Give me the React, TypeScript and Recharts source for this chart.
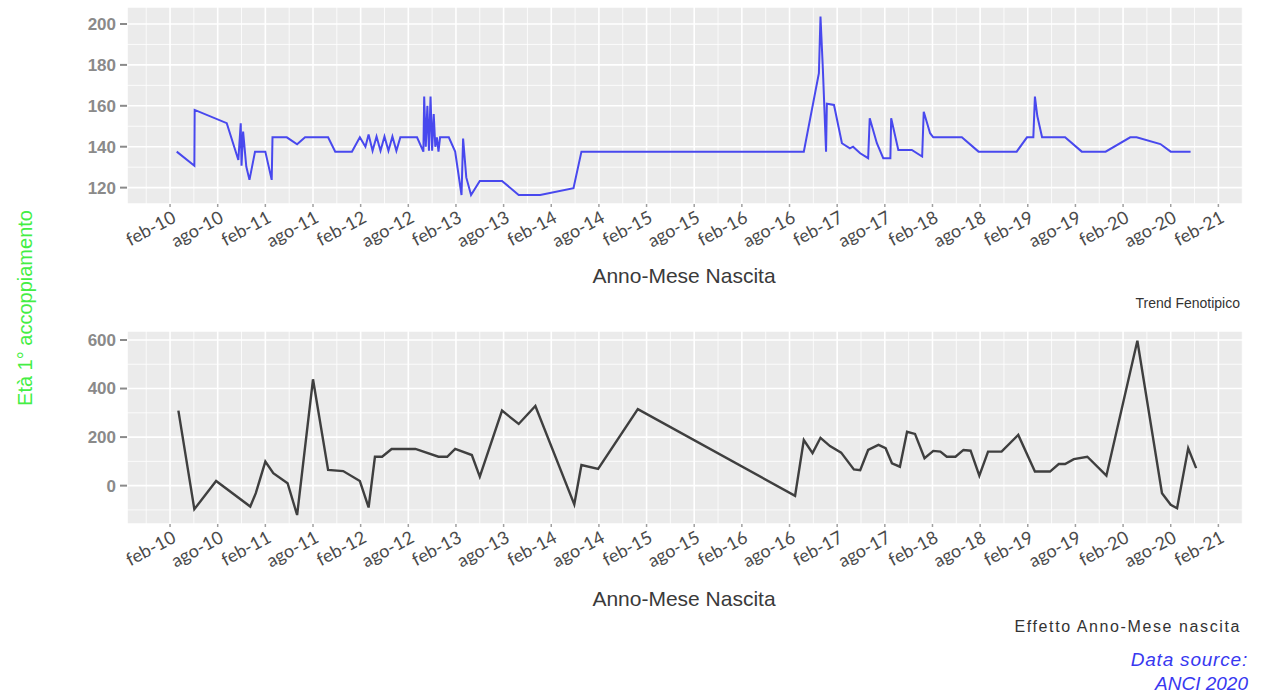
import React from "react";
import { LineChart, Line, XAxis, YAxis, CartesianGrid, ReferenceLine } from "recharts";

// x = months since feb-2010
const tickValues = [0, 6, 12, 18, 24, 30, 36, 42, 48, 54, 60, 66, 72, 78, 84, 90, 96, 102, 108, 114, 120, 126, 132];
const tickLabels = [
  "feb-10", "ago-10", "feb-11", "ago-11", "feb-12", "ago-12", "feb-13", "ago-13", "feb-14", "ago-14",
  "feb-15", "ago-15", "feb-16", "ago-16", "feb-17", "ago-17", "feb-18", "ago-18", "feb-19", "ago-19",
  "feb-20", "ago-20", "feb-21",
];
const xMinor = [-3, 3, 9, 15, 21, 27, 33, 39, 45, 51, 57, 63, 69, 75, 81, 87, 93, 99, 105, 111, 117, 123, 129, 135];

const topMonths = [
  0.84, 3.06, 3.1, 7.14, 8.6, 8.9, 9.0, 9.2, 9.6, 10.0, 10.7, 12.0, 12.8, 12.9, 14.7, 16.0, 17.0, 19.9, 20.8, 22.9,
  23.9, 24.6, 25.0, 25.5, 26.0, 26.5, 27.0, 27.5, 28.0, 28.5, 29.0, 31.1, 31.9, 32.0, 32.2, 32.4, 32.6, 32.8, 33.0, 33.2,
  33.4, 33.6, 33.8, 34.0, 35.1, 35.9, 36.7, 36.9, 37.3, 37.9, 39.0, 41.8, 43.9, 46.6, 50.8, 51.8, 79.8, 81.7, 81.9, 82.0,
  82.2, 82.6, 82.7, 83.6, 84.6, 85.6, 86.0, 86.9, 87.9, 88.1, 89.0, 89.8, 90.7, 90.8, 91.7, 93.4, 94.7, 94.9, 95.7, 96.1,
  99.7, 101.8, 106.6, 107.9, 108.7, 108.9, 109.2, 109.8, 112.7, 114.8, 117.8, 120.9, 121.7, 124.7, 126.0, 128.5,
];
const topValues = [
  137.6, 130.7, 158, 151.5, 133.5, 151.5, 130.7, 147.4, 130.3, 123.8, 137.6, 137.6, 123.8, 144.6, 144.6, 141.2, 144.6, 144.6, 137.6, 137.6,
  144.6, 140, 146, 138, 145, 138, 145, 138, 145, 138, 144.6, 144.6, 137.6, 164.5, 140, 160, 138, 164.5, 138, 156,
  140, 144.6, 137.6, 144.6, 144.6, 137.6, 116.4, 144, 125, 116.4, 123.3, 123.3, 116.4, 116.4, 119.7, 137.6, 137.6, 176, 203.6, 195,
  178, 137.6, 161, 160.4, 141.7, 139.2, 140, 136.8, 134.4, 153.9, 141.7, 134.4, 134.4, 153.9, 138.4, 138.4, 135.2, 157.1, 146.6, 144.6,
  144.6, 137.6, 137.6, 144.6, 144.6, 164.5, 155, 144.6, 144.6, 137.6, 137.6, 144.6, 144.6, 141.3, 137.6, 137.6,
];

const botMonths = [
  1.05, 3.06, 5.8, 10.1, 10.8, 12.0, 13.0, 14.8, 16.0, 18.0, 19.9, 21.8, 23.9, 25.0, 25.8, 26.7, 27.9, 30.9, 33.8, 34.9,
  35.9, 38.0, 39.0, 41.8, 43.9, 46.0, 50.9, 51.8, 53.9, 58.9, 78.7, 79.8, 80.9, 81.9, 83.1, 84.5, 86.1, 86.9, 87.9, 89.2,
  90.1, 90.9, 91.9, 92.8, 93.8, 95.0, 96.1, 97.0, 97.8, 98.9, 99.9, 100.8, 101.9, 103.0, 104.7, 106.8, 108.9, 110.8, 111.9, 112.7,
  113.8, 115.5, 117.9, 121.8, 124.9, 126.0, 126.8, 128.2, 129.2,
];
const botValues = [
  309, -97, 19, -86, -31, 99, 51, 10, -121, 438, 65, 60, 19, -90, 119, 119, 151, 151, 119, 119,
  151, 126, 37, 309, 254, 328, -77, 85, 69, 315, -42, 188, 134, 197, 163, 136, 67, 64, 147, 168,
  154, 92, 78, 222, 213, 113, 143, 140, 119, 119, 147, 144, 41, 140, 140, 209, 58, 58, 89, 89,
  109, 119, 41, 597, -31, -79, -93, 154, 72,
];

const topTicksY = [120, 140, 160, 180, 200];
const topMinorY = [130, 150, 170, 190];
const botTicksY = [0, 200, 400, 600];
const botMinorY = [-100, 100, 300, 500];

const topData = topMonths.map((m, i) => ({ x: m, v: topValues[i] }));
const botData = botMonths.map((m, i) => ({ x: m, v: botValues[i] }));

const XTick = (props: any) => {
  const { x, y, payload } = props;
  const idx = tickValues.indexOf(payload.value);
  const label = idx >= 0 ? tickLabels[idx] : "";
  const ax = x + 1;
  const ay = y - 1;
  return (
    <text
      x={ax}
      y={ay}
      dy="0.72em"
      textAnchor="end"
      transform={`rotate(-28 ${ax} ${ay})`}
      fontFamily="Lato, 'Open Sans', sans-serif"
      fontSize={18}
      fill="#4a4a4a"
    >
      {label}
    </text>
  );
};

const YTick = (props: any) => {
  const { x, y, payload } = props;
  return (
    <text x={x} y={y} dy="0.35em" textAnchor="end" fontFamily="'Liberation Sans', Arial, sans-serif" fontSize={17} fontWeight="bold" fill="#8a8a8a">
      {payload.value}
    </text>
  );
};

const Panel = (props: { data: any[]; domainY: number[]; ticksY: number[]; minorY: number[]; color: string; width: number; top: number; marginTop: number; marginBottom: number }) => {
  const { data, domainY, ticksY, minorY, color, width, top, marginTop, marginBottom } = props;
  return (
    <div style={{ position: "absolute", left: 0, top }}>
      <LineChart width={1266} height={300} data={data} margin={{ top: marginTop, right: 23, left: 77, bottom: marginBottom }}>
        <CartesianGrid fill="#ebebeb" stroke="#ffffff" strokeWidth={1.6} />
        {xMinor.map((v) => (
          <ReferenceLine key={"xm" + v} x={v} stroke="#ffffff" strokeWidth={0.8} />
        ))}
        {minorY.map((v) => (
          <ReferenceLine key={"ym" + v} y={v} stroke="#ffffff" strokeWidth={0.8} />
        ))}
        <XAxis
          dataKey="x"
          type="number"
          domain={[-5.42, 135.1]}
          ticks={tickValues}
          allowDataOverflow
          axisLine={false}
          tickLine={{ stroke: "#a0a0a0", strokeWidth: 1.5 }}
          tickSize={3}
          tickMargin={4}
          height={70}
          tick={<XTick />}
          interval={0}
        />
        <YAxis
          type="number"
          domain={domainY}
          ticks={ticksY}
          allowDataOverflow
          axisLine={false}
          tickLine={{ stroke: "#8a8a8a", strokeWidth: 2 }}
          tickSize={7}
          tickMargin={4}
          width={50}
          tick={<YTick />}
          interval={0}
        />
        <Line type="linear" dataKey="v" stroke={color} strokeWidth={width} dot={false} isAnimationActive={false} />
      </LineChart>
    </div>
  );
};

export default function App() {
  return (
    <div style={{ position: "absolute", left: 0, top: 0, width: 1266, height: 695, background: "#ffffff", overflow: "hidden" }}>
      <Panel data={topData} domainY={[112.0, 208.3]} ticksY={topTicksY} minorY={topMinorY} color="#4848ee" width={2} top={0} marginTop={7} marginBottom={26} />
      <Panel data={botData} domainY={[-158, 637]} ticksY={botTicksY} minorY={botMinorY} color="#3f3f3f" width={2.4} top={300} marginTop={31} marginBottom={6} />
      <svg width={1266} height={695} style={{ position: "absolute", left: 0, top: 0, pointerEvents: "none" }}>
        <text x={25} y={308} transform="rotate(-90 25 308)" textAnchor="middle" dy="0.35em" fontFamily="'Liberation Sans', Arial, sans-serif" fontSize={20} fill="#44ee44">
          Età 1° accoppiamento
        </text>
        <text x={684} y={283} textAnchor="middle" fontFamily="'Liberation Sans', Arial, sans-serif" fontSize={21} fill="#3a3a3a">
          Anno-Mese Nascita
        </text>
        <text x={684} y={606} textAnchor="middle" fontFamily="'Liberation Sans', Arial, sans-serif" fontSize={21} fill="#3a3a3a">
          Anno-Mese Nascita
        </text>
        <text x={1240} y={308} textAnchor="end" fontFamily="'Liberation Sans', Arial, sans-serif" fontSize={14} fill="#333333">
          Trend Fenotipico
        </text>
        <text x={1241} y={632} textAnchor="end" fontFamily="'Liberation Sans', Arial, sans-serif" fontSize={16} letterSpacing={1.6} fill="#333333">
          Effetto Anno-Mese nascita
        </text>
        <text x={1248} y={666} textAnchor="end" fontFamily="'Liberation Sans', Arial, sans-serif" fontSize={19} letterSpacing={0.8} fontStyle="italic" fill="#3838f0">
          Data source:
        </text>
        <text x={1248} y={690} textAnchor="end" fontFamily="'Liberation Sans', Arial, sans-serif" fontSize={19} fontStyle="italic" fill="#3838f0">
          ANCI 2020
        </text>
      </svg>
    </div>
  );
}
